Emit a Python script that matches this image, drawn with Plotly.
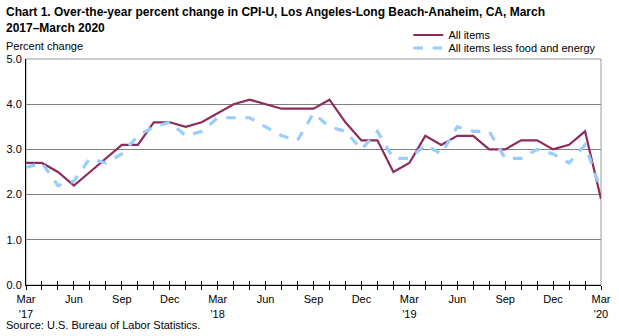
import plotly.graph_objects as go

months = ["Mar 2017", "Apr 2017", "May 2017", "Jun 2017", "Jul 2017", "Aug 2017", "Sep 2017",
          "Oct 2017", "Nov 2017", "Dec 2017", "Jan 2018", "Feb 2018", "Mar 2018", "Apr 2018",
          "May 2018", "Jun 2018", "Jul 2018", "Aug 2018", "Sep 2018", "Oct 2018", "Nov 2018",
          "Dec 2018", "Jan 2019", "Feb 2019", "Mar 2019", "Apr 2019", "May 2019", "Jun 2019",
          "Jul 2019", "Aug 2019", "Sep 2019", "Oct 2019", "Nov 2019", "Dec 2019", "Jan 2020",
          "Feb 2020", "Mar 2020"]

all_items = [2.7, 2.7, 2.5, 2.2, 2.5, 2.8, 3.1, 3.1, 3.6, 3.6, 3.5, 3.6, 3.8, 4.0, 4.1, 4.0,
             3.9, 3.9, 3.9, 4.1, 3.6, 3.2, 3.2, 2.5, 2.7, 3.3, 3.1, 3.3, 3.3, 3.0, 3.0, 3.2,
             3.2, 3.0, 3.1, 3.4, 1.9]

core = [2.6, 2.7, 2.2, 2.3, 2.8, 2.7, 2.9, 3.3, 3.5, 3.6, 3.3, 3.4, 3.7, 3.7, 3.7, 3.5,
        3.3, 3.2, 3.8, 3.5, 3.4, 3.0, 3.4, 2.8, 2.8, 3.1, 2.9, 3.5, 3.4, 3.4, 2.8, 2.8,
        3.0, 2.9, 2.7, 3.1, 2.1]

tick_labels = ["Mar<br>'17", "", "", "Jun", "", "", "Sep", "", "", "Dec", "", "",
               "Mar<br>'18", "", "", "Jun", "", "", "Sep", "", "", "Dec", "", "",
               "Mar<br>'19", "", "", "Jun", "", "", "Sep", "", "", "Dec", "", "",
               "Mar<br>'20"]

title_text = ("Chart 1. Over-the-year percent change in CPI-U, Los Angeles-Long Beach-Anaheim, CA, March"
              "<br>2017–March 2020")

FONT = "Liberation Sans, Arial, sans-serif"

fig = go.Figure()
fig.add_trace(go.Scatter(x=months, y=all_items, mode="lines", name="All items",
                         legend="legend", line=dict(color="#8E2B5C", width=2.2)))
fig.add_trace(go.Scatter(x=months, y=core, mode="lines", name="All items less food and energy",
                         legend="legend2", line=dict(color="#99CCFF", width=3.2, dash="dash")))
# invisible helper trace for the inside half of the crossing ticks
fig.add_trace(go.Scatter(x=months, y=all_items, mode="lines", xaxis="x2", showlegend=False,
                         hoverinfo="skip", line=dict(width=0), opacity=0))

legend_common = dict(x=0.665, xanchor="left", yanchor="middle", bgcolor="rgba(0,0,0,0)",
                     font=dict(size=11, family=FONT), itemwidth=30)

fig.update_layout(
    width=619, height=336,
    margin=dict(l=26, r=18, t=59, b=51),
    paper_bgcolor="white", plot_bgcolor="white",
    font=dict(family=FONT, size=11, color="#000000"),
    showlegend=True,
    legend=dict(y=(285 - 35) / 226, **legend_common),
    legend2=dict(y=(285 - 48) / 226, **legend_common),
    xaxis=dict(type="category", tickmode="array", tickvals=months, ticktext=tick_labels,
               range=[0, 36], ticks="outside", ticklen=4, tickcolor="#000000",
               showline=True, linecolor="#000000", linewidth=1, showgrid=False,
               zeroline=False, tickangle=0, automargin=False,
               tickfont=dict(size=11, family=FONT)),
    xaxis2=dict(type="category", overlaying="x", matches="x", tickmode="array",
                tickvals=months, ticktext=[""] * len(months), ticks="inside", ticklen=4,
                tickcolor="#000000", showline=False, showgrid=False, zeroline=False,
                side="bottom", anchor="y", automargin=False),
    yaxis=dict(range=[0, 5], dtick=1, tickformat=".1f", showgrid=True, gridcolor="#808080",
               gridwidth=1, showline=True, linecolor="#000000", linewidth=1, ticks="",
               zeroline=False, ticklabelstandoff=1, automargin=False,
               tickfont=dict(size=11, family=FONT)),
    shapes=[dict(type="rect", xref="paper", yref="paper", x0=0, x1=1, y0=0, y1=1,
                 line=dict(color="#8FA08F", width=1), layer="below")],
    annotations=[
        dict(text=title_text, xref="paper", yref="paper", x=-22/575, y=(285 - 3) / 226,
             xanchor="left", yanchor="top", align="left", showarrow=False,
             font=dict(size=12, family=FONT, color="#000000", weight="bold")),
        dict(text="Percent change", xref="paper", yref="paper", x=-22/575, y=1.058,
             xanchor="left", yanchor="middle", showarrow=False, font=dict(size=11, family=FONT)),
        dict(text="Source: U.S. Bureau of Labor Statistics.", xref="paper", yref="paper",
             x=-22/575, y=-40/226, xanchor="left", yanchor="middle", showarrow=False,
             font=dict(size=11, family=FONT)),
    ],
)

fig.write_html("out.html")
